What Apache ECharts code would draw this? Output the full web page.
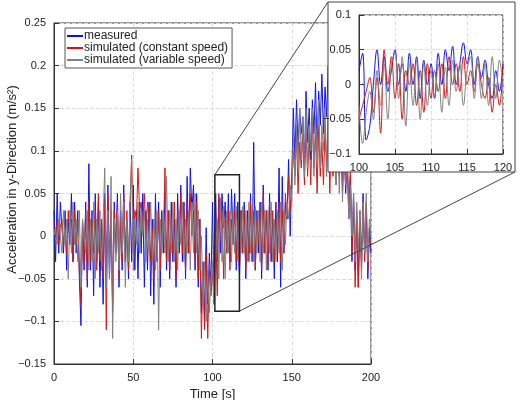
<!DOCTYPE html>
<html>
<head>
<meta charset="utf-8">
<script src="https://cdn.jsdelivr.net/npm/echarts@6/dist/echarts.min.js"></script>
<style>html,body{margin:0;padding:0;background:#fff}#main{width:520px;height:400px}</style>
</head>
<body>
<div id="main"></div>
<script>
// main series, one value per second from 0 to 200 s
const measured = [
  0.03,-0.03,0.05,-0.02,0.04,0.01,-0.02,0.03,-0.04,0.02,
  -0.01,0.05,-0.03,0.04,-0.02,0.03,-0.05,-0.105,0.02,-0.04,
  0.04,-0.06,0.085,-0.04,0.03,-0.07,0.05,-0.03,0.04,-0.06,
  0.02,-0.08,0.05,-0.04,0.06,-0.05,0.03,-0.09,0.04,-0.02,
  0.05,-0.06,0.03,-0.04,0.06,-0.03,0.02,-0.05,0.04,-0.03,
  0.06,-0.04,0.03,-0.05,0.04,-0.02,0.05,-0.06,0.03,-0.04,
  0.04,-0.07,0.02,-0.08,0.05,-0.03,0.04,-0.06,0.03,-0.02,
  0.05,-0.04,0.03,-0.05,0.04,-0.03,0.02,-0.06,0.05,-0.02,
  0.06,-0.03,0.04,-0.05,0.07,-0.02,0.08,0.03,0.06,-0.04,
  0.05,-0.06,0.02,-0.09,-0.03,-0.1,0.01,-0.08,-0.02,-0.06,
  0.04,-0.08,0.05,-0.03,0.045,-0.02,0.05,0.01,0.04,-0.02,
  0.05,-0.03,0.055,0.0,0.05,-0.04,0.04,-0.05,0.03,-0.02,
  0.04,-0.05,0.03,-0.02,0.05,-0.03,0.11,-0.04,0.03,-0.02,
  0.04,-0.05,0.06,-0.02,0.03,-0.04,0.05,-0.03,0.02,-0.05,
  0.04,-0.03,0.08,-0.06,0.07,-0.02,0.04,0.02,0.09,0.0,
  0.07,0.15,0.09,0.16,0.1,0.15,0.12,0.14,0.08,0.17,
  0.11,0.15,0.09,0.16,0.12,0.18,0.1,0.17,0.13,0.19,
  0.12,0.175,0.14,0.2,0.11,0.16,0.13,0.18,0.1,0.15,
  0.08,0.14,0.06,0.12,0.05,0.09,0.02,0.07,-0.03,0.05,
  -0.04,0.03,-0.06,0.02,-0.03,0.05,-0.02,0.04,-0.05,0.01,
  -0.02
];
const simConst = [
  0.01,0.0,0.02,-0.01,0.01,0.02,-0.01,0.01,-0.02,0.03,
  0.0,0.02,-0.03,0.03,-0.01,0.02,-0.04,-0.08,0.01,-0.03,
  0.03,-0.05,0.04,-0.03,0.02,-0.02,0.03,-0.04,0.05,-0.03,
  0.02,-0.05,0.04,-0.11,0.05,-0.03,0.03,-0.08,0.03,-0.02,
  0.04,-0.05,0.02,-0.03,0.05,-0.02,0.03,-0.04,0.04,0.095,
  -0.02,0.03,0.02,0.08,0.03,0.04,0.01,0.05,0.0,0.04,
  0.02,-0.03,0.01,-0.05,0.02,-0.02,0.03,-0.04,0.02,-0.01,
  0.08,-0.03,0.03,-0.04,0.02,-0.02,0.04,-0.05,0.03,-0.01,
  0.05,-0.02,0.03,-0.04,0.04,-0.02,0.05,0.0,0.03,-0.03,
  0.04,-0.05,0.02,-0.12,-0.04,-0.11,-0.02,-0.12,-0.04,-0.07,
  -0.05,-0.01,0.01,-0.07,0.05,0.02,0.03,-0.05,0.02,-0.02,
  0.03,-0.04,0.02,-0.01,0.03,-0.03,0.02,-0.04,0.03,-0.02,
  0.03,-0.04,0.02,-0.03,0.04,-0.02,0.03,-0.04,0.02,-0.01,
  0.03,-0.04,0.05,-0.02,0.03,-0.03,0.04,-0.02,0.03,-0.03,
  0.02,-0.02,0.04,-0.03,0.03,-0.02,0.05,0.02,0.07,0.03,
  0.06,0.1,0.07,0.12,0.05,0.11,0.08,0.12,0.06,0.13,
  0.07,0.12,0.06,0.14,0.08,0.12,0.05,0.13,0.07,0.11,
  0.06,0.13,0.08,0.14,0.05,0.12,0.07,0.11,0.06,0.13,
  0.07,0.12,0.05,0.1,0.06,0.09,0.03,0.08,-0.02,0.04,
  -0.06,0.02,-0.06,0.03,-0.04,0.04,-0.03,0.03,-0.04,0.0,
  -0.01
];
const simVar = [
  0.0,0.01,-0.01,0.02,0.0,-0.02,0.03,-0.01,0.02,-0.05,
  0.03,-0.02,0.04,-0.01,0.02,-0.03,0.03,-0.06,0.02,0.0,
  -0.02,0.03,-0.04,0.02,-0.03,0.04,-0.05,0.02,-0.02,0.03,
  -0.04,0.02,0.08,-0.06,0.03,-0.05,0.07,-0.12,0.02,-0.03,
  0.03,-0.04,0.05,-0.02,0.04,-0.06,0.02,-0.03,0.04,0.09,
  -0.04,0.02,-0.01,0.04,-0.02,0.03,0.0,0.03,-0.03,0.02,
  -0.02,0.04,-0.03,0.02,-0.04,0.03,-0.11,0.02,-0.02,0.03,
  -0.02,0.07,-0.03,0.03,-0.02,0.04,-0.03,0.02,-0.04,0.03,
  -0.01,0.04,-0.03,0.02,-0.02,0.03,-0.04,0.04,-0.02,0.05,
  -0.02,0.03,-0.04,0.0,-0.08,-0.03,-0.1,-0.04,-0.09,-0.05,
  -0.03,-0.08,-0.02,0.02,-0.05,0.045,-0.03,0.035,-0.05,0.03,
  -0.02,0.03,-0.03,0.03,-0.02,0.035,-0.03,0.04,-0.02,0.035,
  -0.02,0.03,-0.03,0.04,-0.02,0.03,-0.03,0.035,-0.02,0.03,
  -0.03,0.04,-0.02,0.03,-0.04,0.03,-0.02,0.04,-0.03,0.02,
  -0.03,0.03,-0.02,0.04,-0.04,0.03,-0.01,0.04,0.02,0.06,
  0.04,0.12,0.06,0.13,0.08,0.15,0.09,0.14,0.07,0.15,
  0.08,0.13,0.1,0.15,0.07,0.14,0.09,0.16,0.08,0.13,
  0.1,0.15,0.07,0.14,0.09,0.13,0.08,0.15,0.06,0.12,
  0.05,0.13,0.04,0.11,0.06,0.1,0.02,0.06,0.0,0.05,
  -0.03,0.04,-0.02,0.03,-0.05,0.04,-0.02,0.05,-0.03,0.02,
  0.0
];
// zoomed window, 100..120 s every 0.5 s
const zoomMeasured = [
  0.02,0.045,-0.08,-0.06,0.0,0.05,0.0,0.04,-0.01,0.02,
  0.05,0.0,0.03,-0.01,0.045,0.0,0.04,-0.02,0.035,0.0,
  0.03,-0.02,0.045,0.0,0.05,0.02,0.055,0.0,0.03,0.06,
  0.03,0.05,0.0,0.04,0.01,0.035,0.0,-0.02,0.02,-0.01,
  0.03
];
const zoomConst = [
  -0.05,-0.03,-0.01,0.01,-0.04,0.01,-0.07,0.05,0.0,0.04,
  -0.02,0.03,-0.05,0.02,0.0,0.03,-0.03,0.02,-0.04,0.03,
  -0.02,0.02,-0.01,0.03,-0.02,0.04,0.0,0.03,-0.01,0.04,
  0.0,0.02,-0.01,0.03,0.0,-0.02,0.01,-0.04,0.0,-0.03,
  0.03
];
const zoomVar = [
  -0.03,-0.085,-0.04,-0.01,-0.05,0.02,-0.03,0.03,-0.05,0.03,
  0.045,-0.02,0.04,-0.06,0.03,-0.03,0.035,-0.05,0.03,-0.03,
  0.02,-0.02,0.03,-0.04,0.025,-0.03,0.035,-0.01,0.03,-0.03,
  0.02,0.04,-0.02,0.04,-0.02,0.03,-0.03,0.04,-0.02,0.035,
  0.0
];
const names = ['measured', 'simulated (constant speed)', 'simulated (variable speed)'];
const colors = ['#1010ee', '#d01818', '#808080'];

const pairs = (arr, t0, dt) => arr.map((v, i) => [t0 + i * dt, v]);
const fmt = v => String(+v.toFixed(2)).replace('-', '\u2212');

const axisCommon = {
  axisLine: { onZero: false, lineStyle: { color: '#333' } },
  axisTick: { inside: true, lineStyle: { color: '#333' } },
  axisLabel: { color: '#222', fontSize: 11, formatter: fmt },
  splitLine: { lineStyle: { color: '#ddd', type: 'dashed' } }
};

const chart = echarts.init(document.getElementById('main'));
chart.setOption({
  animation: false,
  textStyle: { fontFamily: 'Liberation Sans' },
  legend: {
    data: names, orient: 'vertical', left: 65, top: 28,
    backgroundColor: '#fff', borderColor: '#555', borderWidth: 1, borderRadius: 0,
    padding: [2, 4, 2, 2], itemGap: 0, itemWidth: 16, itemHeight: 2, icon: 'rect',
    textStyle: { fontSize: 12, color: '#222', padding: [0, 0, 0, -4] }
  },
  grid: [
    { left: 54, right: 149, top: 23, bottom: 36, show: true, borderColor: '#333', outerBoundsMode: 'none' },
    { left: 359, right: 17, top: 15, bottom: 246, show: true, borderColor: '#333', zlevel: 1, outerBoundsMode: 'none' }
  ],
  xAxis: [
    Object.assign({}, axisCommon, { type: 'value', min: 0, max: 200, interval: 50,
      name: 'Time [s]', nameLocation: 'middle', nameGap: 20, nameTextStyle: { fontSize: 13, color: '#222' } }),
    Object.assign({}, axisCommon, { gridIndex: 1, type: 'value', min: 100, max: 120, interval: 5, zlevel: 1 })
  ],
  yAxis: [
    Object.assign({}, axisCommon, { type: 'value', min: -0.15, max: 0.25, interval: 0.05 }),
    Object.assign({}, axisCommon, { gridIndex: 1, type: 'value', min: -0.1, max: 0.1, interval: 0.05, zlevel: 1 })
  ],
  series: [
    { name: names[0], data: pairs(measured, 0, 1), color: colors[0] },
    { name: names[1], data: pairs(simConst, 0, 1), color: colors[1] },
    { name: names[2], data: pairs(simVar, 0, 1), color: colors[2] },
    { name: names[0], data: pairs(zoomMeasured, 100, 0.5), color: colors[0], xAxisIndex: 1, yAxisIndex: 1, smooth: 0.4, zlevel: 1 },
    { name: names[1], data: pairs(zoomConst, 100, 0.5), color: colors[1], xAxisIndex: 1, yAxisIndex: 1, smooth: 0.4, zlevel: 1 },
    { name: names[2], data: pairs(zoomVar, 100, 0.5), color: colors[2], xAxisIndex: 1, yAxisIndex: 1, smooth: 0.4, zlevel: 1 }
  ].map(s => Object.assign({ type: 'line', symbol: 'none', lineStyle: { width: 1 } }, s))
});

// zoom box on the main axes and the connector lines to the inset
const tl = chart.convertToPixel({ gridIndex: 0 }, [101.5, 0.072]);
const br = chart.convertToPixel({ gridIndex: 0 }, [117, -0.088]);
const mid = chart.convertToPixel({ gridIndex: 0 }, [0, 0.05]);
const inset = { x: 328, y: 2, width: 187, height: 170 };
chart.setOption({
  graphic: [
    { type: 'text', x: 12, y: mid[1] - 14, rotation: Math.PI / 2,
      style: { text: 'Acceleration in y-Direction (m/s\u00b2)', font: '13px "Liberation Sans"',
        fill: '#222', align: 'center', verticalAlign: 'middle' } },
    { type: 'rect', z: 100, shape: inset,
      style: { fill: '#fff', stroke: '#444', lineWidth: 1 } },
    { type: 'rect', z: 50, shape: { x: tl[0], y: tl[1], width: br[0] - tl[0], height: br[1] - tl[1] },
      style: { fill: 'none', stroke: '#222', lineWidth: 1.5 } },
    { type: 'line', z: 50, shape: { x1: tl[0], y1: tl[1], x2: inset.x, y2: inset.y },
      style: { stroke: '#444', lineWidth: 1 } },
    { type: 'line', z: 50, shape: { x1: br[0], y1: br[1], x2: inset.x + inset.width, y2: inset.y + inset.height },
      style: { stroke: '#444', lineWidth: 1 } }
  ]
});
</script>
</body>
</html>
